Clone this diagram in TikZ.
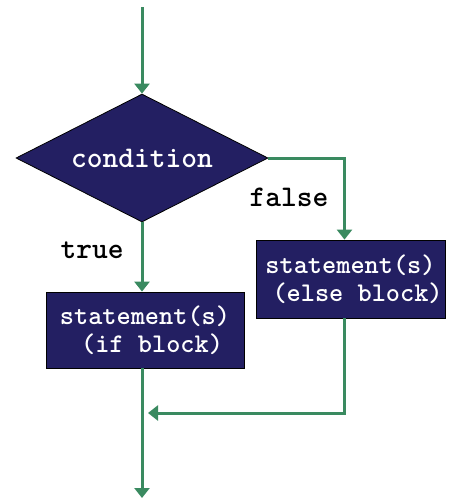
\documentclass[tikz,border=0pt]{standalone}
\usepackage{fontspec}
\usetikzlibrary{arrows.meta,shapes.geometric}
\definecolor{navy}{RGB}{35,31,98}
\definecolor{flowgreen}{RGB}{58,138,96}
\begin{document}
\begin{tikzpicture}[x=1pt,y=-1pt,
  flow/.style={draw=flowgreen,line width=3pt,-{Triangle[width=15pt,length=10pt]}},
  dia/.style={diamond,draw=black,line width=0.8pt,fill=navy,text=white,inner sep=0pt,
    minimum width=252pt,minimum height=128pt,aspect=1.97,
    font=\ttfamily\bfseries\fontsize{30}{34}\selectfont},
  blk/.style={rectangle,draw=black,line width=0.8pt,fill=navy,text=white,inner sep=0pt,align=center,
    font=\ttfamily\bfseries\fontsize{27}{28}\selectfont},
  lbl/.style={text=black,inner sep=0pt,font=\ttfamily\bfseries\fontsize{30}{34}\selectfont}]
\useasboundingbox (0,0) rectangle (450,499);
\coordinate (top) at (142,7);
\node[dia] (cond) at (142,158) {condition};
\node[blk,minimum width=198pt,minimum height=76pt] (ifb) at (145,330)
  {statement(s)\\\hphantom{(}(if block)};
\node[blk,minimum width=189pt,minimum height=78pt] (elseb) at (350.5,279)
  {statement(s)\\\hphantom{(}(else block)};
\node[lbl] (truelbl) at (92,250) {true};
\node[lbl] (falselbl) at (289,197) {false};
\coordinate (join) at (142,413);
\coordinate (bot) at (142,498);
\draw[flow] (top) -- (cond.north);
\draw[flow] (cond.south) -- (cond.south |- ifb.north);
\draw[flow] (cond.east) -| ([xshift=-6pt]elseb.north);
\draw[flow,shorten >=6pt] ([xshift=-6pt]elseb.south) |- (join);
\draw[flow] (cond.south |- ifb.south) -- (bot);
\end{tikzpicture}
\end{document}
